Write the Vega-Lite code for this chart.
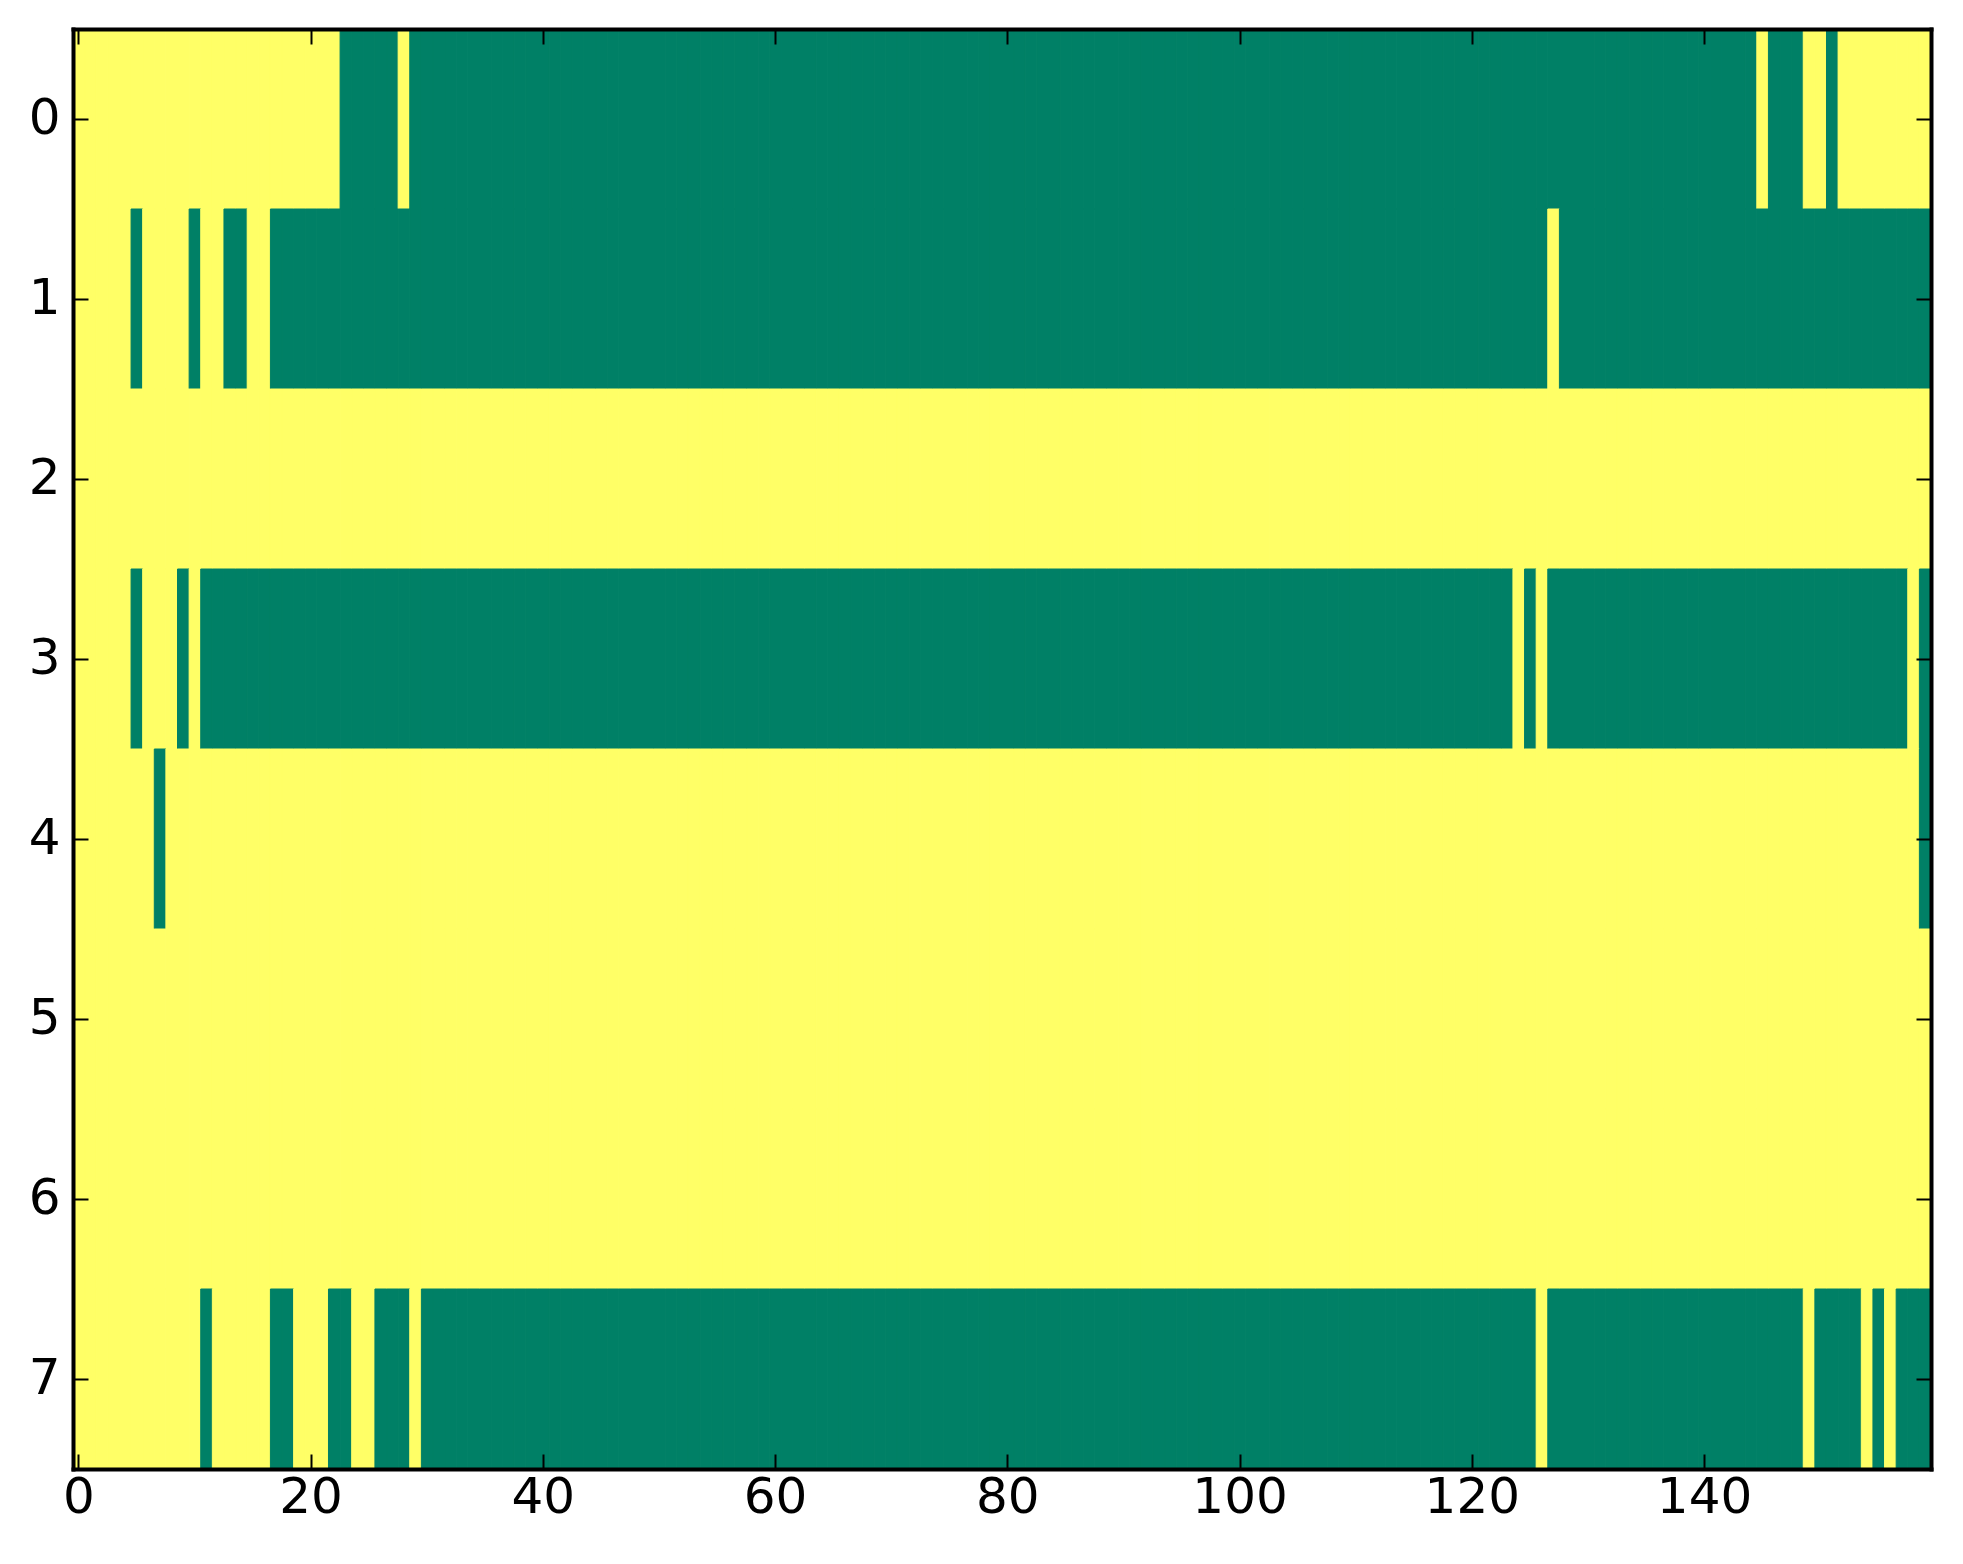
{
  "$schema": "https://vega.github.io/schema/vega-lite/v6.json",
  "width": 1858,
  "height": 1440,
  "autosize": {"type": "none"},
  "padding": {"left": 73, "top": 29, "right": 32, "bottom": 95},
  "background": "white",
  "config": {
    "view": {"stroke": null},
    "axis": {
      "labelFont": "DejaVu Sans",
      "labelFontSize": 50,
      "labelColor": "black",
      "tickColor": "black",
      "tickWidth": 2,
      "tickSize": -15,
      "domainColor": "black",
      "domainWidth": 4,
      "domainCap": "square",
      "grid": false,
      "title": null
    }
  },
  "data": {"values": [
{"r":0,"c":0,"v":1},{"r":0,"c":1,"v":1},{"r":0,"c":2,"v":1},{"r":0,"c":3,"v":1},{"r":0,"c":4,"v":1},{"r":0,"c":5,"v":1},{"r":0,"c":6,"v":1},{"r":0,"c":7,"v":1},{"r":0,"c":8,"v":1},{"r":0,"c":9,"v":1},
{"r":0,"c":10,"v":1},{"r":0,"c":11,"v":1},{"r":0,"c":12,"v":1},{"r":0,"c":13,"v":1},{"r":0,"c":14,"v":1},{"r":0,"c":15,"v":1},{"r":0,"c":16,"v":1},{"r":0,"c":17,"v":1},{"r":0,"c":18,"v":1},{"r":0,"c":19,"v":1},
{"r":0,"c":20,"v":1},{"r":0,"c":21,"v":1},{"r":0,"c":22,"v":1},{"r":0,"c":23,"v":0},{"r":0,"c":24,"v":0},{"r":0,"c":25,"v":0},{"r":0,"c":26,"v":0},{"r":0,"c":27,"v":0},{"r":0,"c":28,"v":1},{"r":0,"c":29,"v":0},
{"r":0,"c":30,"v":0},{"r":0,"c":31,"v":0},{"r":0,"c":32,"v":0},{"r":0,"c":33,"v":0},{"r":0,"c":34,"v":0},{"r":0,"c":35,"v":0},{"r":0,"c":36,"v":0},{"r":0,"c":37,"v":0},{"r":0,"c":38,"v":0},{"r":0,"c":39,"v":0},
{"r":0,"c":40,"v":0},{"r":0,"c":41,"v":0},{"r":0,"c":42,"v":0},{"r":0,"c":43,"v":0},{"r":0,"c":44,"v":0},{"r":0,"c":45,"v":0},{"r":0,"c":46,"v":0},{"r":0,"c":47,"v":0},{"r":0,"c":48,"v":0},{"r":0,"c":49,"v":0},
{"r":0,"c":50,"v":0},{"r":0,"c":51,"v":0},{"r":0,"c":52,"v":0},{"r":0,"c":53,"v":0},{"r":0,"c":54,"v":0},{"r":0,"c":55,"v":0},{"r":0,"c":56,"v":0},{"r":0,"c":57,"v":0},{"r":0,"c":58,"v":0},{"r":0,"c":59,"v":0},
{"r":0,"c":60,"v":0},{"r":0,"c":61,"v":0},{"r":0,"c":62,"v":0},{"r":0,"c":63,"v":0},{"r":0,"c":64,"v":0},{"r":0,"c":65,"v":0},{"r":0,"c":66,"v":0},{"r":0,"c":67,"v":0},{"r":0,"c":68,"v":0},{"r":0,"c":69,"v":0},
{"r":0,"c":70,"v":0},{"r":0,"c":71,"v":0},{"r":0,"c":72,"v":0},{"r":0,"c":73,"v":0},{"r":0,"c":74,"v":0},{"r":0,"c":75,"v":0},{"r":0,"c":76,"v":0},{"r":0,"c":77,"v":0},{"r":0,"c":78,"v":0},{"r":0,"c":79,"v":0},
{"r":0,"c":80,"v":0},{"r":0,"c":81,"v":0},{"r":0,"c":82,"v":0},{"r":0,"c":83,"v":0},{"r":0,"c":84,"v":0},{"r":0,"c":85,"v":0},{"r":0,"c":86,"v":0},{"r":0,"c":87,"v":0},{"r":0,"c":88,"v":0},{"r":0,"c":89,"v":0},
{"r":0,"c":90,"v":0},{"r":0,"c":91,"v":0},{"r":0,"c":92,"v":0},{"r":0,"c":93,"v":0},{"r":0,"c":94,"v":0},{"r":0,"c":95,"v":0},{"r":0,"c":96,"v":0},{"r":0,"c":97,"v":0},{"r":0,"c":98,"v":0},{"r":0,"c":99,"v":0},
{"r":0,"c":100,"v":0},{"r":0,"c":101,"v":0},{"r":0,"c":102,"v":0},{"r":0,"c":103,"v":0},{"r":0,"c":104,"v":0},{"r":0,"c":105,"v":0},{"r":0,"c":106,"v":0},{"r":0,"c":107,"v":0},{"r":0,"c":108,"v":0},{"r":0,"c":109,"v":0},
{"r":0,"c":110,"v":0},{"r":0,"c":111,"v":0},{"r":0,"c":112,"v":0},{"r":0,"c":113,"v":0},{"r":0,"c":114,"v":0},{"r":0,"c":115,"v":0},{"r":0,"c":116,"v":0},{"r":0,"c":117,"v":0},{"r":0,"c":118,"v":0},{"r":0,"c":119,"v":0},
{"r":0,"c":120,"v":0},{"r":0,"c":121,"v":0},{"r":0,"c":122,"v":0},{"r":0,"c":123,"v":0},{"r":0,"c":124,"v":0},{"r":0,"c":125,"v":0},{"r":0,"c":126,"v":0},{"r":0,"c":127,"v":0},{"r":0,"c":128,"v":0},{"r":0,"c":129,"v":0},
{"r":0,"c":130,"v":0},{"r":0,"c":131,"v":0},{"r":0,"c":132,"v":0},{"r":0,"c":133,"v":0},{"r":0,"c":134,"v":0},{"r":0,"c":135,"v":0},{"r":0,"c":136,"v":0},{"r":0,"c":137,"v":0},{"r":0,"c":138,"v":0},{"r":0,"c":139,"v":0},
{"r":0,"c":140,"v":0},{"r":0,"c":141,"v":0},{"r":0,"c":142,"v":0},{"r":0,"c":143,"v":0},{"r":0,"c":144,"v":0},{"r":0,"c":145,"v":1},{"r":0,"c":146,"v":0},{"r":0,"c":147,"v":0},{"r":0,"c":148,"v":0},{"r":0,"c":149,"v":1},
{"r":0,"c":150,"v":1},{"r":0,"c":151,"v":0},{"r":0,"c":152,"v":1},{"r":0,"c":153,"v":1},{"r":0,"c":154,"v":1},{"r":0,"c":155,"v":1},{"r":0,"c":156,"v":1},{"r":0,"c":157,"v":1},{"r":0,"c":158,"v":1},{"r":0,"c":159,"v":1},
{"r":1,"c":0,"v":1},{"r":1,"c":1,"v":1},{"r":1,"c":2,"v":1},{"r":1,"c":3,"v":1},{"r":1,"c":4,"v":1},{"r":1,"c":5,"v":0},{"r":1,"c":6,"v":1},{"r":1,"c":7,"v":1},{"r":1,"c":8,"v":1},{"r":1,"c":9,"v":1},
{"r":1,"c":10,"v":0},{"r":1,"c":11,"v":1},{"r":1,"c":12,"v":1},{"r":1,"c":13,"v":0},{"r":1,"c":14,"v":0},{"r":1,"c":15,"v":1},{"r":1,"c":16,"v":1},{"r":1,"c":17,"v":0},{"r":1,"c":18,"v":0},{"r":1,"c":19,"v":0},
{"r":1,"c":20,"v":0},{"r":1,"c":21,"v":0},{"r":1,"c":22,"v":0},{"r":1,"c":23,"v":0},{"r":1,"c":24,"v":0},{"r":1,"c":25,"v":0},{"r":1,"c":26,"v":0},{"r":1,"c":27,"v":0},{"r":1,"c":28,"v":0},{"r":1,"c":29,"v":0},
{"r":1,"c":30,"v":0},{"r":1,"c":31,"v":0},{"r":1,"c":32,"v":0},{"r":1,"c":33,"v":0},{"r":1,"c":34,"v":0},{"r":1,"c":35,"v":0},{"r":1,"c":36,"v":0},{"r":1,"c":37,"v":0},{"r":1,"c":38,"v":0},{"r":1,"c":39,"v":0},
{"r":1,"c":40,"v":0},{"r":1,"c":41,"v":0},{"r":1,"c":42,"v":0},{"r":1,"c":43,"v":0},{"r":1,"c":44,"v":0},{"r":1,"c":45,"v":0},{"r":1,"c":46,"v":0},{"r":1,"c":47,"v":0},{"r":1,"c":48,"v":0},{"r":1,"c":49,"v":0},
{"r":1,"c":50,"v":0},{"r":1,"c":51,"v":0},{"r":1,"c":52,"v":0},{"r":1,"c":53,"v":0},{"r":1,"c":54,"v":0},{"r":1,"c":55,"v":0},{"r":1,"c":56,"v":0},{"r":1,"c":57,"v":0},{"r":1,"c":58,"v":0},{"r":1,"c":59,"v":0},
{"r":1,"c":60,"v":0},{"r":1,"c":61,"v":0},{"r":1,"c":62,"v":0},{"r":1,"c":63,"v":0},{"r":1,"c":64,"v":0},{"r":1,"c":65,"v":0},{"r":1,"c":66,"v":0},{"r":1,"c":67,"v":0},{"r":1,"c":68,"v":0},{"r":1,"c":69,"v":0},
{"r":1,"c":70,"v":0},{"r":1,"c":71,"v":0},{"r":1,"c":72,"v":0},{"r":1,"c":73,"v":0},{"r":1,"c":74,"v":0},{"r":1,"c":75,"v":0},{"r":1,"c":76,"v":0},{"r":1,"c":77,"v":0},{"r":1,"c":78,"v":0},{"r":1,"c":79,"v":0},
{"r":1,"c":80,"v":0},{"r":1,"c":81,"v":0},{"r":1,"c":82,"v":0},{"r":1,"c":83,"v":0},{"r":1,"c":84,"v":0},{"r":1,"c":85,"v":0},{"r":1,"c":86,"v":0},{"r":1,"c":87,"v":0},{"r":1,"c":88,"v":0},{"r":1,"c":89,"v":0},
{"r":1,"c":90,"v":0},{"r":1,"c":91,"v":0},{"r":1,"c":92,"v":0},{"r":1,"c":93,"v":0},{"r":1,"c":94,"v":0},{"r":1,"c":95,"v":0},{"r":1,"c":96,"v":0},{"r":1,"c":97,"v":0},{"r":1,"c":98,"v":0},{"r":1,"c":99,"v":0},
{"r":1,"c":100,"v":0},{"r":1,"c":101,"v":0},{"r":1,"c":102,"v":0},{"r":1,"c":103,"v":0},{"r":1,"c":104,"v":0},{"r":1,"c":105,"v":0},{"r":1,"c":106,"v":0},{"r":1,"c":107,"v":0},{"r":1,"c":108,"v":0},{"r":1,"c":109,"v":0},
{"r":1,"c":110,"v":0},{"r":1,"c":111,"v":0},{"r":1,"c":112,"v":0},{"r":1,"c":113,"v":0},{"r":1,"c":114,"v":0},{"r":1,"c":115,"v":0},{"r":1,"c":116,"v":0},{"r":1,"c":117,"v":0},{"r":1,"c":118,"v":0},{"r":1,"c":119,"v":0},
{"r":1,"c":120,"v":0},{"r":1,"c":121,"v":0},{"r":1,"c":122,"v":0},{"r":1,"c":123,"v":0},{"r":1,"c":124,"v":0},{"r":1,"c":125,"v":0},{"r":1,"c":126,"v":0},{"r":1,"c":127,"v":1},{"r":1,"c":128,"v":0},{"r":1,"c":129,"v":0},
{"r":1,"c":130,"v":0},{"r":1,"c":131,"v":0},{"r":1,"c":132,"v":0},{"r":1,"c":133,"v":0},{"r":1,"c":134,"v":0},{"r":1,"c":135,"v":0},{"r":1,"c":136,"v":0},{"r":1,"c":137,"v":0},{"r":1,"c":138,"v":0},{"r":1,"c":139,"v":0},
{"r":1,"c":140,"v":0},{"r":1,"c":141,"v":0},{"r":1,"c":142,"v":0},{"r":1,"c":143,"v":0},{"r":1,"c":144,"v":0},{"r":1,"c":145,"v":0},{"r":1,"c":146,"v":0},{"r":1,"c":147,"v":0},{"r":1,"c":148,"v":0},{"r":1,"c":149,"v":0},
{"r":1,"c":150,"v":0},{"r":1,"c":151,"v":0},{"r":1,"c":152,"v":0},{"r":1,"c":153,"v":0},{"r":1,"c":154,"v":0},{"r":1,"c":155,"v":0},{"r":1,"c":156,"v":0},{"r":1,"c":157,"v":0},{"r":1,"c":158,"v":0},{"r":1,"c":159,"v":0},
{"r":2,"c":0,"v":1},{"r":2,"c":1,"v":1},{"r":2,"c":2,"v":1},{"r":2,"c":3,"v":1},{"r":2,"c":4,"v":1},{"r":2,"c":5,"v":1},{"r":2,"c":6,"v":1},{"r":2,"c":7,"v":1},{"r":2,"c":8,"v":1},{"r":2,"c":9,"v":1},
{"r":2,"c":10,"v":1},{"r":2,"c":11,"v":1},{"r":2,"c":12,"v":1},{"r":2,"c":13,"v":1},{"r":2,"c":14,"v":1},{"r":2,"c":15,"v":1},{"r":2,"c":16,"v":1},{"r":2,"c":17,"v":1},{"r":2,"c":18,"v":1},{"r":2,"c":19,"v":1},
{"r":2,"c":20,"v":1},{"r":2,"c":21,"v":1},{"r":2,"c":22,"v":1},{"r":2,"c":23,"v":1},{"r":2,"c":24,"v":1},{"r":2,"c":25,"v":1},{"r":2,"c":26,"v":1},{"r":2,"c":27,"v":1},{"r":2,"c":28,"v":1},{"r":2,"c":29,"v":1},
{"r":2,"c":30,"v":1},{"r":2,"c":31,"v":1},{"r":2,"c":32,"v":1},{"r":2,"c":33,"v":1},{"r":2,"c":34,"v":1},{"r":2,"c":35,"v":1},{"r":2,"c":36,"v":1},{"r":2,"c":37,"v":1},{"r":2,"c":38,"v":1},{"r":2,"c":39,"v":1},
{"r":2,"c":40,"v":1},{"r":2,"c":41,"v":1},{"r":2,"c":42,"v":1},{"r":2,"c":43,"v":1},{"r":2,"c":44,"v":1},{"r":2,"c":45,"v":1},{"r":2,"c":46,"v":1},{"r":2,"c":47,"v":1},{"r":2,"c":48,"v":1},{"r":2,"c":49,"v":1},
{"r":2,"c":50,"v":1},{"r":2,"c":51,"v":1},{"r":2,"c":52,"v":1},{"r":2,"c":53,"v":1},{"r":2,"c":54,"v":1},{"r":2,"c":55,"v":1},{"r":2,"c":56,"v":1},{"r":2,"c":57,"v":1},{"r":2,"c":58,"v":1},{"r":2,"c":59,"v":1},
{"r":2,"c":60,"v":1},{"r":2,"c":61,"v":1},{"r":2,"c":62,"v":1},{"r":2,"c":63,"v":1},{"r":2,"c":64,"v":1},{"r":2,"c":65,"v":1},{"r":2,"c":66,"v":1},{"r":2,"c":67,"v":1},{"r":2,"c":68,"v":1},{"r":2,"c":69,"v":1},
{"r":2,"c":70,"v":1},{"r":2,"c":71,"v":1},{"r":2,"c":72,"v":1},{"r":2,"c":73,"v":1},{"r":2,"c":74,"v":1},{"r":2,"c":75,"v":1},{"r":2,"c":76,"v":1},{"r":2,"c":77,"v":1},{"r":2,"c":78,"v":1},{"r":2,"c":79,"v":1},
{"r":2,"c":80,"v":1},{"r":2,"c":81,"v":1},{"r":2,"c":82,"v":1},{"r":2,"c":83,"v":1},{"r":2,"c":84,"v":1},{"r":2,"c":85,"v":1},{"r":2,"c":86,"v":1},{"r":2,"c":87,"v":1},{"r":2,"c":88,"v":1},{"r":2,"c":89,"v":1},
{"r":2,"c":90,"v":1},{"r":2,"c":91,"v":1},{"r":2,"c":92,"v":1},{"r":2,"c":93,"v":1},{"r":2,"c":94,"v":1},{"r":2,"c":95,"v":1},{"r":2,"c":96,"v":1},{"r":2,"c":97,"v":1},{"r":2,"c":98,"v":1},{"r":2,"c":99,"v":1},
{"r":2,"c":100,"v":1},{"r":2,"c":101,"v":1},{"r":2,"c":102,"v":1},{"r":2,"c":103,"v":1},{"r":2,"c":104,"v":1},{"r":2,"c":105,"v":1},{"r":2,"c":106,"v":1},{"r":2,"c":107,"v":1},{"r":2,"c":108,"v":1},{"r":2,"c":109,"v":1},
{"r":2,"c":110,"v":1},{"r":2,"c":111,"v":1},{"r":2,"c":112,"v":1},{"r":2,"c":113,"v":1},{"r":2,"c":114,"v":1},{"r":2,"c":115,"v":1},{"r":2,"c":116,"v":1},{"r":2,"c":117,"v":1},{"r":2,"c":118,"v":1},{"r":2,"c":119,"v":1},
{"r":2,"c":120,"v":1},{"r":2,"c":121,"v":1},{"r":2,"c":122,"v":1},{"r":2,"c":123,"v":1},{"r":2,"c":124,"v":1},{"r":2,"c":125,"v":1},{"r":2,"c":126,"v":1},{"r":2,"c":127,"v":1},{"r":2,"c":128,"v":1},{"r":2,"c":129,"v":1},
{"r":2,"c":130,"v":1},{"r":2,"c":131,"v":1},{"r":2,"c":132,"v":1},{"r":2,"c":133,"v":1},{"r":2,"c":134,"v":1},{"r":2,"c":135,"v":1},{"r":2,"c":136,"v":1},{"r":2,"c":137,"v":1},{"r":2,"c":138,"v":1},{"r":2,"c":139,"v":1},
{"r":2,"c":140,"v":1},{"r":2,"c":141,"v":1},{"r":2,"c":142,"v":1},{"r":2,"c":143,"v":1},{"r":2,"c":144,"v":1},{"r":2,"c":145,"v":1},{"r":2,"c":146,"v":1},{"r":2,"c":147,"v":1},{"r":2,"c":148,"v":1},{"r":2,"c":149,"v":1},
{"r":2,"c":150,"v":1},{"r":2,"c":151,"v":1},{"r":2,"c":152,"v":1},{"r":2,"c":153,"v":1},{"r":2,"c":154,"v":1},{"r":2,"c":155,"v":1},{"r":2,"c":156,"v":1},{"r":2,"c":157,"v":1},{"r":2,"c":158,"v":1},{"r":2,"c":159,"v":1},
{"r":3,"c":0,"v":1},{"r":3,"c":1,"v":1},{"r":3,"c":2,"v":1},{"r":3,"c":3,"v":1},{"r":3,"c":4,"v":1},{"r":3,"c":5,"v":0},{"r":3,"c":6,"v":1},{"r":3,"c":7,"v":1},{"r":3,"c":8,"v":1},{"r":3,"c":9,"v":0},
{"r":3,"c":10,"v":1},{"r":3,"c":11,"v":0},{"r":3,"c":12,"v":0},{"r":3,"c":13,"v":0},{"r":3,"c":14,"v":0},{"r":3,"c":15,"v":0},{"r":3,"c":16,"v":0},{"r":3,"c":17,"v":0},{"r":3,"c":18,"v":0},{"r":3,"c":19,"v":0},
{"r":3,"c":20,"v":0},{"r":3,"c":21,"v":0},{"r":3,"c":22,"v":0},{"r":3,"c":23,"v":0},{"r":3,"c":24,"v":0},{"r":3,"c":25,"v":0},{"r":3,"c":26,"v":0},{"r":3,"c":27,"v":0},{"r":3,"c":28,"v":0},{"r":3,"c":29,"v":0},
{"r":3,"c":30,"v":0},{"r":3,"c":31,"v":0},{"r":3,"c":32,"v":0},{"r":3,"c":33,"v":0},{"r":3,"c":34,"v":0},{"r":3,"c":35,"v":0},{"r":3,"c":36,"v":0},{"r":3,"c":37,"v":0},{"r":3,"c":38,"v":0},{"r":3,"c":39,"v":0},
{"r":3,"c":40,"v":0},{"r":3,"c":41,"v":0},{"r":3,"c":42,"v":0},{"r":3,"c":43,"v":0},{"r":3,"c":44,"v":0},{"r":3,"c":45,"v":0},{"r":3,"c":46,"v":0},{"r":3,"c":47,"v":0},{"r":3,"c":48,"v":0},{"r":3,"c":49,"v":0},
{"r":3,"c":50,"v":0},{"r":3,"c":51,"v":0},{"r":3,"c":52,"v":0},{"r":3,"c":53,"v":0},{"r":3,"c":54,"v":0},{"r":3,"c":55,"v":0},{"r":3,"c":56,"v":0},{"r":3,"c":57,"v":0},{"r":3,"c":58,"v":0},{"r":3,"c":59,"v":0},
{"r":3,"c":60,"v":0},{"r":3,"c":61,"v":0},{"r":3,"c":62,"v":0},{"r":3,"c":63,"v":0},{"r":3,"c":64,"v":0},{"r":3,"c":65,"v":0},{"r":3,"c":66,"v":0},{"r":3,"c":67,"v":0},{"r":3,"c":68,"v":0},{"r":3,"c":69,"v":0},
{"r":3,"c":70,"v":0},{"r":3,"c":71,"v":0},{"r":3,"c":72,"v":0},{"r":3,"c":73,"v":0},{"r":3,"c":74,"v":0},{"r":3,"c":75,"v":0},{"r":3,"c":76,"v":0},{"r":3,"c":77,"v":0},{"r":3,"c":78,"v":0},{"r":3,"c":79,"v":0},
{"r":3,"c":80,"v":0},{"r":3,"c":81,"v":0},{"r":3,"c":82,"v":0},{"r":3,"c":83,"v":0},{"r":3,"c":84,"v":0},{"r":3,"c":85,"v":0},{"r":3,"c":86,"v":0},{"r":3,"c":87,"v":0},{"r":3,"c":88,"v":0},{"r":3,"c":89,"v":0},
{"r":3,"c":90,"v":0},{"r":3,"c":91,"v":0},{"r":3,"c":92,"v":0},{"r":3,"c":93,"v":0},{"r":3,"c":94,"v":0},{"r":3,"c":95,"v":0},{"r":3,"c":96,"v":0},{"r":3,"c":97,"v":0},{"r":3,"c":98,"v":0},{"r":3,"c":99,"v":0},
{"r":3,"c":100,"v":0},{"r":3,"c":101,"v":0},{"r":3,"c":102,"v":0},{"r":3,"c":103,"v":0},{"r":3,"c":104,"v":0},{"r":3,"c":105,"v":0},{"r":3,"c":106,"v":0},{"r":3,"c":107,"v":0},{"r":3,"c":108,"v":0},{"r":3,"c":109,"v":0},
{"r":3,"c":110,"v":0},{"r":3,"c":111,"v":0},{"r":3,"c":112,"v":0},{"r":3,"c":113,"v":0},{"r":3,"c":114,"v":0},{"r":3,"c":115,"v":0},{"r":3,"c":116,"v":0},{"r":3,"c":117,"v":0},{"r":3,"c":118,"v":0},{"r":3,"c":119,"v":0},
{"r":3,"c":120,"v":0},{"r":3,"c":121,"v":0},{"r":3,"c":122,"v":0},{"r":3,"c":123,"v":0},{"r":3,"c":124,"v":1},{"r":3,"c":125,"v":0},{"r":3,"c":126,"v":1},{"r":3,"c":127,"v":0},{"r":3,"c":128,"v":0},{"r":3,"c":129,"v":0},
{"r":3,"c":130,"v":0},{"r":3,"c":131,"v":0},{"r":3,"c":132,"v":0},{"r":3,"c":133,"v":0},{"r":3,"c":134,"v":0},{"r":3,"c":135,"v":0},{"r":3,"c":136,"v":0},{"r":3,"c":137,"v":0},{"r":3,"c":138,"v":0},{"r":3,"c":139,"v":0},
{"r":3,"c":140,"v":0},{"r":3,"c":141,"v":0},{"r":3,"c":142,"v":0},{"r":3,"c":143,"v":0},{"r":3,"c":144,"v":0},{"r":3,"c":145,"v":0},{"r":3,"c":146,"v":0},{"r":3,"c":147,"v":0},{"r":3,"c":148,"v":0},{"r":3,"c":149,"v":0},
{"r":3,"c":150,"v":0},{"r":3,"c":151,"v":0},{"r":3,"c":152,"v":0},{"r":3,"c":153,"v":0},{"r":3,"c":154,"v":0},{"r":3,"c":155,"v":0},{"r":3,"c":156,"v":0},{"r":3,"c":157,"v":0},{"r":3,"c":158,"v":1},{"r":3,"c":159,"v":0},
{"r":4,"c":0,"v":1},{"r":4,"c":1,"v":1},{"r":4,"c":2,"v":1},{"r":4,"c":3,"v":1},{"r":4,"c":4,"v":1},{"r":4,"c":5,"v":1},{"r":4,"c":6,"v":1},{"r":4,"c":7,"v":0},{"r":4,"c":8,"v":1},{"r":4,"c":9,"v":1},
{"r":4,"c":10,"v":1},{"r":4,"c":11,"v":1},{"r":4,"c":12,"v":1},{"r":4,"c":13,"v":1},{"r":4,"c":14,"v":1},{"r":4,"c":15,"v":1},{"r":4,"c":16,"v":1},{"r":4,"c":17,"v":1},{"r":4,"c":18,"v":1},{"r":4,"c":19,"v":1},
{"r":4,"c":20,"v":1},{"r":4,"c":21,"v":1},{"r":4,"c":22,"v":1},{"r":4,"c":23,"v":1},{"r":4,"c":24,"v":1},{"r":4,"c":25,"v":1},{"r":4,"c":26,"v":1},{"r":4,"c":27,"v":1},{"r":4,"c":28,"v":1},{"r":4,"c":29,"v":1},
{"r":4,"c":30,"v":1},{"r":4,"c":31,"v":1},{"r":4,"c":32,"v":1},{"r":4,"c":33,"v":1},{"r":4,"c":34,"v":1},{"r":4,"c":35,"v":1},{"r":4,"c":36,"v":1},{"r":4,"c":37,"v":1},{"r":4,"c":38,"v":1},{"r":4,"c":39,"v":1},
{"r":4,"c":40,"v":1},{"r":4,"c":41,"v":1},{"r":4,"c":42,"v":1},{"r":4,"c":43,"v":1},{"r":4,"c":44,"v":1},{"r":4,"c":45,"v":1},{"r":4,"c":46,"v":1},{"r":4,"c":47,"v":1},{"r":4,"c":48,"v":1},{"r":4,"c":49,"v":1},
{"r":4,"c":50,"v":1},{"r":4,"c":51,"v":1},{"r":4,"c":52,"v":1},{"r":4,"c":53,"v":1},{"r":4,"c":54,"v":1},{"r":4,"c":55,"v":1},{"r":4,"c":56,"v":1},{"r":4,"c":57,"v":1},{"r":4,"c":58,"v":1},{"r":4,"c":59,"v":1},
{"r":4,"c":60,"v":1},{"r":4,"c":61,"v":1},{"r":4,"c":62,"v":1},{"r":4,"c":63,"v":1},{"r":4,"c":64,"v":1},{"r":4,"c":65,"v":1},{"r":4,"c":66,"v":1},{"r":4,"c":67,"v":1},{"r":4,"c":68,"v":1},{"r":4,"c":69,"v":1},
{"r":4,"c":70,"v":1},{"r":4,"c":71,"v":1},{"r":4,"c":72,"v":1},{"r":4,"c":73,"v":1},{"r":4,"c":74,"v":1},{"r":4,"c":75,"v":1},{"r":4,"c":76,"v":1},{"r":4,"c":77,"v":1},{"r":4,"c":78,"v":1},{"r":4,"c":79,"v":1},
{"r":4,"c":80,"v":1},{"r":4,"c":81,"v":1},{"r":4,"c":82,"v":1},{"r":4,"c":83,"v":1},{"r":4,"c":84,"v":1},{"r":4,"c":85,"v":1},{"r":4,"c":86,"v":1},{"r":4,"c":87,"v":1},{"r":4,"c":88,"v":1},{"r":4,"c":89,"v":1},
{"r":4,"c":90,"v":1},{"r":4,"c":91,"v":1},{"r":4,"c":92,"v":1},{"r":4,"c":93,"v":1},{"r":4,"c":94,"v":1},{"r":4,"c":95,"v":1},{"r":4,"c":96,"v":1},{"r":4,"c":97,"v":1},{"r":4,"c":98,"v":1},{"r":4,"c":99,"v":1},
{"r":4,"c":100,"v":1},{"r":4,"c":101,"v":1},{"r":4,"c":102,"v":1},{"r":4,"c":103,"v":1},{"r":4,"c":104,"v":1},{"r":4,"c":105,"v":1},{"r":4,"c":106,"v":1},{"r":4,"c":107,"v":1},{"r":4,"c":108,"v":1},{"r":4,"c":109,"v":1},
{"r":4,"c":110,"v":1},{"r":4,"c":111,"v":1},{"r":4,"c":112,"v":1},{"r":4,"c":113,"v":1},{"r":4,"c":114,"v":1},{"r":4,"c":115,"v":1},{"r":4,"c":116,"v":1},{"r":4,"c":117,"v":1},{"r":4,"c":118,"v":1},{"r":4,"c":119,"v":1},
{"r":4,"c":120,"v":1},{"r":4,"c":121,"v":1},{"r":4,"c":122,"v":1},{"r":4,"c":123,"v":1},{"r":4,"c":124,"v":1},{"r":4,"c":125,"v":1},{"r":4,"c":126,"v":1},{"r":4,"c":127,"v":1},{"r":4,"c":128,"v":1},{"r":4,"c":129,"v":1},
{"r":4,"c":130,"v":1},{"r":4,"c":131,"v":1},{"r":4,"c":132,"v":1},{"r":4,"c":133,"v":1},{"r":4,"c":134,"v":1},{"r":4,"c":135,"v":1},{"r":4,"c":136,"v":1},{"r":4,"c":137,"v":1},{"r":4,"c":138,"v":1},{"r":4,"c":139,"v":1},
{"r":4,"c":140,"v":1},{"r":4,"c":141,"v":1},{"r":4,"c":142,"v":1},{"r":4,"c":143,"v":1},{"r":4,"c":144,"v":1},{"r":4,"c":145,"v":1},{"r":4,"c":146,"v":1},{"r":4,"c":147,"v":1},{"r":4,"c":148,"v":1},{"r":4,"c":149,"v":1},
{"r":4,"c":150,"v":1},{"r":4,"c":151,"v":1},{"r":4,"c":152,"v":1},{"r":4,"c":153,"v":1},{"r":4,"c":154,"v":1},{"r":4,"c":155,"v":1},{"r":4,"c":156,"v":1},{"r":4,"c":157,"v":1},{"r":4,"c":158,"v":1},{"r":4,"c":159,"v":0},
{"r":5,"c":0,"v":1},{"r":5,"c":1,"v":1},{"r":5,"c":2,"v":1},{"r":5,"c":3,"v":1},{"r":5,"c":4,"v":1},{"r":5,"c":5,"v":1},{"r":5,"c":6,"v":1},{"r":5,"c":7,"v":1},{"r":5,"c":8,"v":1},{"r":5,"c":9,"v":1},
{"r":5,"c":10,"v":1},{"r":5,"c":11,"v":1},{"r":5,"c":12,"v":1},{"r":5,"c":13,"v":1},{"r":5,"c":14,"v":1},{"r":5,"c":15,"v":1},{"r":5,"c":16,"v":1},{"r":5,"c":17,"v":1},{"r":5,"c":18,"v":1},{"r":5,"c":19,"v":1},
{"r":5,"c":20,"v":1},{"r":5,"c":21,"v":1},{"r":5,"c":22,"v":1},{"r":5,"c":23,"v":1},{"r":5,"c":24,"v":1},{"r":5,"c":25,"v":1},{"r":5,"c":26,"v":1},{"r":5,"c":27,"v":1},{"r":5,"c":28,"v":1},{"r":5,"c":29,"v":1},
{"r":5,"c":30,"v":1},{"r":5,"c":31,"v":1},{"r":5,"c":32,"v":1},{"r":5,"c":33,"v":1},{"r":5,"c":34,"v":1},{"r":5,"c":35,"v":1},{"r":5,"c":36,"v":1},{"r":5,"c":37,"v":1},{"r":5,"c":38,"v":1},{"r":5,"c":39,"v":1},
{"r":5,"c":40,"v":1},{"r":5,"c":41,"v":1},{"r":5,"c":42,"v":1},{"r":5,"c":43,"v":1},{"r":5,"c":44,"v":1},{"r":5,"c":45,"v":1},{"r":5,"c":46,"v":1},{"r":5,"c":47,"v":1},{"r":5,"c":48,"v":1},{"r":5,"c":49,"v":1},
{"r":5,"c":50,"v":1},{"r":5,"c":51,"v":1},{"r":5,"c":52,"v":1},{"r":5,"c":53,"v":1},{"r":5,"c":54,"v":1},{"r":5,"c":55,"v":1},{"r":5,"c":56,"v":1},{"r":5,"c":57,"v":1},{"r":5,"c":58,"v":1},{"r":5,"c":59,"v":1},
{"r":5,"c":60,"v":1},{"r":5,"c":61,"v":1},{"r":5,"c":62,"v":1},{"r":5,"c":63,"v":1},{"r":5,"c":64,"v":1},{"r":5,"c":65,"v":1},{"r":5,"c":66,"v":1},{"r":5,"c":67,"v":1},{"r":5,"c":68,"v":1},{"r":5,"c":69,"v":1},
{"r":5,"c":70,"v":1},{"r":5,"c":71,"v":1},{"r":5,"c":72,"v":1},{"r":5,"c":73,"v":1},{"r":5,"c":74,"v":1},{"r":5,"c":75,"v":1},{"r":5,"c":76,"v":1},{"r":5,"c":77,"v":1},{"r":5,"c":78,"v":1},{"r":5,"c":79,"v":1},
{"r":5,"c":80,"v":1},{"r":5,"c":81,"v":1},{"r":5,"c":82,"v":1},{"r":5,"c":83,"v":1},{"r":5,"c":84,"v":1},{"r":5,"c":85,"v":1},{"r":5,"c":86,"v":1},{"r":5,"c":87,"v":1},{"r":5,"c":88,"v":1},{"r":5,"c":89,"v":1},
{"r":5,"c":90,"v":1},{"r":5,"c":91,"v":1},{"r":5,"c":92,"v":1},{"r":5,"c":93,"v":1},{"r":5,"c":94,"v":1},{"r":5,"c":95,"v":1},{"r":5,"c":96,"v":1},{"r":5,"c":97,"v":1},{"r":5,"c":98,"v":1},{"r":5,"c":99,"v":1},
{"r":5,"c":100,"v":1},{"r":5,"c":101,"v":1},{"r":5,"c":102,"v":1},{"r":5,"c":103,"v":1},{"r":5,"c":104,"v":1},{"r":5,"c":105,"v":1},{"r":5,"c":106,"v":1},{"r":5,"c":107,"v":1},{"r":5,"c":108,"v":1},{"r":5,"c":109,"v":1},
{"r":5,"c":110,"v":1},{"r":5,"c":111,"v":1},{"r":5,"c":112,"v":1},{"r":5,"c":113,"v":1},{"r":5,"c":114,"v":1},{"r":5,"c":115,"v":1},{"r":5,"c":116,"v":1},{"r":5,"c":117,"v":1},{"r":5,"c":118,"v":1},{"r":5,"c":119,"v":1},
{"r":5,"c":120,"v":1},{"r":5,"c":121,"v":1},{"r":5,"c":122,"v":1},{"r":5,"c":123,"v":1},{"r":5,"c":124,"v":1},{"r":5,"c":125,"v":1},{"r":5,"c":126,"v":1},{"r":5,"c":127,"v":1},{"r":5,"c":128,"v":1},{"r":5,"c":129,"v":1},
{"r":5,"c":130,"v":1},{"r":5,"c":131,"v":1},{"r":5,"c":132,"v":1},{"r":5,"c":133,"v":1},{"r":5,"c":134,"v":1},{"r":5,"c":135,"v":1},{"r":5,"c":136,"v":1},{"r":5,"c":137,"v":1},{"r":5,"c":138,"v":1},{"r":5,"c":139,"v":1},
{"r":5,"c":140,"v":1},{"r":5,"c":141,"v":1},{"r":5,"c":142,"v":1},{"r":5,"c":143,"v":1},{"r":5,"c":144,"v":1},{"r":5,"c":145,"v":1},{"r":5,"c":146,"v":1},{"r":5,"c":147,"v":1},{"r":5,"c":148,"v":1},{"r":5,"c":149,"v":1},
{"r":5,"c":150,"v":1},{"r":5,"c":151,"v":1},{"r":5,"c":152,"v":1},{"r":5,"c":153,"v":1},{"r":5,"c":154,"v":1},{"r":5,"c":155,"v":1},{"r":5,"c":156,"v":1},{"r":5,"c":157,"v":1},{"r":5,"c":158,"v":1},{"r":5,"c":159,"v":1},
{"r":6,"c":0,"v":1},{"r":6,"c":1,"v":1},{"r":6,"c":2,"v":1},{"r":6,"c":3,"v":1},{"r":6,"c":4,"v":1},{"r":6,"c":5,"v":1},{"r":6,"c":6,"v":1},{"r":6,"c":7,"v":1},{"r":6,"c":8,"v":1},{"r":6,"c":9,"v":1},
{"r":6,"c":10,"v":1},{"r":6,"c":11,"v":1},{"r":6,"c":12,"v":1},{"r":6,"c":13,"v":1},{"r":6,"c":14,"v":1},{"r":6,"c":15,"v":1},{"r":6,"c":16,"v":1},{"r":6,"c":17,"v":1},{"r":6,"c":18,"v":1},{"r":6,"c":19,"v":1},
{"r":6,"c":20,"v":1},{"r":6,"c":21,"v":1},{"r":6,"c":22,"v":1},{"r":6,"c":23,"v":1},{"r":6,"c":24,"v":1},{"r":6,"c":25,"v":1},{"r":6,"c":26,"v":1},{"r":6,"c":27,"v":1},{"r":6,"c":28,"v":1},{"r":6,"c":29,"v":1},
{"r":6,"c":30,"v":1},{"r":6,"c":31,"v":1},{"r":6,"c":32,"v":1},{"r":6,"c":33,"v":1},{"r":6,"c":34,"v":1},{"r":6,"c":35,"v":1},{"r":6,"c":36,"v":1},{"r":6,"c":37,"v":1},{"r":6,"c":38,"v":1},{"r":6,"c":39,"v":1},
{"r":6,"c":40,"v":1},{"r":6,"c":41,"v":1},{"r":6,"c":42,"v":1},{"r":6,"c":43,"v":1},{"r":6,"c":44,"v":1},{"r":6,"c":45,"v":1},{"r":6,"c":46,"v":1},{"r":6,"c":47,"v":1},{"r":6,"c":48,"v":1},{"r":6,"c":49,"v":1},
{"r":6,"c":50,"v":1},{"r":6,"c":51,"v":1},{"r":6,"c":52,"v":1},{"r":6,"c":53,"v":1},{"r":6,"c":54,"v":1},{"r":6,"c":55,"v":1},{"r":6,"c":56,"v":1},{"r":6,"c":57,"v":1},{"r":6,"c":58,"v":1},{"r":6,"c":59,"v":1},
{"r":6,"c":60,"v":1},{"r":6,"c":61,"v":1},{"r":6,"c":62,"v":1},{"r":6,"c":63,"v":1},{"r":6,"c":64,"v":1},{"r":6,"c":65,"v":1},{"r":6,"c":66,"v":1},{"r":6,"c":67,"v":1},{"r":6,"c":68,"v":1},{"r":6,"c":69,"v":1},
{"r":6,"c":70,"v":1},{"r":6,"c":71,"v":1},{"r":6,"c":72,"v":1},{"r":6,"c":73,"v":1},{"r":6,"c":74,"v":1},{"r":6,"c":75,"v":1},{"r":6,"c":76,"v":1},{"r":6,"c":77,"v":1},{"r":6,"c":78,"v":1},{"r":6,"c":79,"v":1},
{"r":6,"c":80,"v":1},{"r":6,"c":81,"v":1},{"r":6,"c":82,"v":1},{"r":6,"c":83,"v":1},{"r":6,"c":84,"v":1},{"r":6,"c":85,"v":1},{"r":6,"c":86,"v":1},{"r":6,"c":87,"v":1},{"r":6,"c":88,"v":1},{"r":6,"c":89,"v":1},
{"r":6,"c":90,"v":1},{"r":6,"c":91,"v":1},{"r":6,"c":92,"v":1},{"r":6,"c":93,"v":1},{"r":6,"c":94,"v":1},{"r":6,"c":95,"v":1},{"r":6,"c":96,"v":1},{"r":6,"c":97,"v":1},{"r":6,"c":98,"v":1},{"r":6,"c":99,"v":1},
{"r":6,"c":100,"v":1},{"r":6,"c":101,"v":1},{"r":6,"c":102,"v":1},{"r":6,"c":103,"v":1},{"r":6,"c":104,"v":1},{"r":6,"c":105,"v":1},{"r":6,"c":106,"v":1},{"r":6,"c":107,"v":1},{"r":6,"c":108,"v":1},{"r":6,"c":109,"v":1},
{"r":6,"c":110,"v":1},{"r":6,"c":111,"v":1},{"r":6,"c":112,"v":1},{"r":6,"c":113,"v":1},{"r":6,"c":114,"v":1},{"r":6,"c":115,"v":1},{"r":6,"c":116,"v":1},{"r":6,"c":117,"v":1},{"r":6,"c":118,"v":1},{"r":6,"c":119,"v":1},
{"r":6,"c":120,"v":1},{"r":6,"c":121,"v":1},{"r":6,"c":122,"v":1},{"r":6,"c":123,"v":1},{"r":6,"c":124,"v":1},{"r":6,"c":125,"v":1},{"r":6,"c":126,"v":1},{"r":6,"c":127,"v":1},{"r":6,"c":128,"v":1},{"r":6,"c":129,"v":1},
{"r":6,"c":130,"v":1},{"r":6,"c":131,"v":1},{"r":6,"c":132,"v":1},{"r":6,"c":133,"v":1},{"r":6,"c":134,"v":1},{"r":6,"c":135,"v":1},{"r":6,"c":136,"v":1},{"r":6,"c":137,"v":1},{"r":6,"c":138,"v":1},{"r":6,"c":139,"v":1},
{"r":6,"c":140,"v":1},{"r":6,"c":141,"v":1},{"r":6,"c":142,"v":1},{"r":6,"c":143,"v":1},{"r":6,"c":144,"v":1},{"r":6,"c":145,"v":1},{"r":6,"c":146,"v":1},{"r":6,"c":147,"v":1},{"r":6,"c":148,"v":1},{"r":6,"c":149,"v":1},
{"r":6,"c":150,"v":1},{"r":6,"c":151,"v":1},{"r":6,"c":152,"v":1},{"r":6,"c":153,"v":1},{"r":6,"c":154,"v":1},{"r":6,"c":155,"v":1},{"r":6,"c":156,"v":1},{"r":6,"c":157,"v":1},{"r":6,"c":158,"v":1},{"r":6,"c":159,"v":1},
{"r":7,"c":0,"v":1},{"r":7,"c":1,"v":1},{"r":7,"c":2,"v":1},{"r":7,"c":3,"v":1},{"r":7,"c":4,"v":1},{"r":7,"c":5,"v":1},{"r":7,"c":6,"v":1},{"r":7,"c":7,"v":1},{"r":7,"c":8,"v":1},{"r":7,"c":9,"v":1},
{"r":7,"c":10,"v":1},{"r":7,"c":11,"v":0},{"r":7,"c":12,"v":1},{"r":7,"c":13,"v":1},{"r":7,"c":14,"v":1},{"r":7,"c":15,"v":1},{"r":7,"c":16,"v":1},{"r":7,"c":17,"v":0},{"r":7,"c":18,"v":0},{"r":7,"c":19,"v":1},
{"r":7,"c":20,"v":1},{"r":7,"c":21,"v":1},{"r":7,"c":22,"v":0},{"r":7,"c":23,"v":0},{"r":7,"c":24,"v":1},{"r":7,"c":25,"v":1},{"r":7,"c":26,"v":0},{"r":7,"c":27,"v":0},{"r":7,"c":28,"v":0},{"r":7,"c":29,"v":1},
{"r":7,"c":30,"v":0},{"r":7,"c":31,"v":0},{"r":7,"c":32,"v":0},{"r":7,"c":33,"v":0},{"r":7,"c":34,"v":0},{"r":7,"c":35,"v":0},{"r":7,"c":36,"v":0},{"r":7,"c":37,"v":0},{"r":7,"c":38,"v":0},{"r":7,"c":39,"v":0},
{"r":7,"c":40,"v":0},{"r":7,"c":41,"v":0},{"r":7,"c":42,"v":0},{"r":7,"c":43,"v":0},{"r":7,"c":44,"v":0},{"r":7,"c":45,"v":0},{"r":7,"c":46,"v":0},{"r":7,"c":47,"v":0},{"r":7,"c":48,"v":0},{"r":7,"c":49,"v":0},
{"r":7,"c":50,"v":0},{"r":7,"c":51,"v":0},{"r":7,"c":52,"v":0},{"r":7,"c":53,"v":0},{"r":7,"c":54,"v":0},{"r":7,"c":55,"v":0},{"r":7,"c":56,"v":0},{"r":7,"c":57,"v":0},{"r":7,"c":58,"v":0},{"r":7,"c":59,"v":0},
{"r":7,"c":60,"v":0},{"r":7,"c":61,"v":0},{"r":7,"c":62,"v":0},{"r":7,"c":63,"v":0},{"r":7,"c":64,"v":0},{"r":7,"c":65,"v":0},{"r":7,"c":66,"v":0},{"r":7,"c":67,"v":0},{"r":7,"c":68,"v":0},{"r":7,"c":69,"v":0},
{"r":7,"c":70,"v":0},{"r":7,"c":71,"v":0},{"r":7,"c":72,"v":0},{"r":7,"c":73,"v":0},{"r":7,"c":74,"v":0},{"r":7,"c":75,"v":0},{"r":7,"c":76,"v":0},{"r":7,"c":77,"v":0},{"r":7,"c":78,"v":0},{"r":7,"c":79,"v":0},
{"r":7,"c":80,"v":0},{"r":7,"c":81,"v":0},{"r":7,"c":82,"v":0},{"r":7,"c":83,"v":0},{"r":7,"c":84,"v":0},{"r":7,"c":85,"v":0},{"r":7,"c":86,"v":0},{"r":7,"c":87,"v":0},{"r":7,"c":88,"v":0},{"r":7,"c":89,"v":0},
{"r":7,"c":90,"v":0},{"r":7,"c":91,"v":0},{"r":7,"c":92,"v":0},{"r":7,"c":93,"v":0},{"r":7,"c":94,"v":0},{"r":7,"c":95,"v":0},{"r":7,"c":96,"v":0},{"r":7,"c":97,"v":0},{"r":7,"c":98,"v":0},{"r":7,"c":99,"v":0},
{"r":7,"c":100,"v":0},{"r":7,"c":101,"v":0},{"r":7,"c":102,"v":0},{"r":7,"c":103,"v":0},{"r":7,"c":104,"v":0},{"r":7,"c":105,"v":0},{"r":7,"c":106,"v":0},{"r":7,"c":107,"v":0},{"r":7,"c":108,"v":0},{"r":7,"c":109,"v":0},
{"r":7,"c":110,"v":0},{"r":7,"c":111,"v":0},{"r":7,"c":112,"v":0},{"r":7,"c":113,"v":0},{"r":7,"c":114,"v":0},{"r":7,"c":115,"v":0},{"r":7,"c":116,"v":0},{"r":7,"c":117,"v":0},{"r":7,"c":118,"v":0},{"r":7,"c":119,"v":0},
{"r":7,"c":120,"v":0},{"r":7,"c":121,"v":0},{"r":7,"c":122,"v":0},{"r":7,"c":123,"v":0},{"r":7,"c":124,"v":0},{"r":7,"c":125,"v":0},{"r":7,"c":126,"v":1},{"r":7,"c":127,"v":0},{"r":7,"c":128,"v":0},{"r":7,"c":129,"v":0},
{"r":7,"c":130,"v":0},{"r":7,"c":131,"v":0},{"r":7,"c":132,"v":0},{"r":7,"c":133,"v":0},{"r":7,"c":134,"v":0},{"r":7,"c":135,"v":0},{"r":7,"c":136,"v":0},{"r":7,"c":137,"v":0},{"r":7,"c":138,"v":0},{"r":7,"c":139,"v":0},
{"r":7,"c":140,"v":0},{"r":7,"c":141,"v":0},{"r":7,"c":142,"v":0},{"r":7,"c":143,"v":0},{"r":7,"c":144,"v":0},{"r":7,"c":145,"v":0},{"r":7,"c":146,"v":0},{"r":7,"c":147,"v":0},{"r":7,"c":148,"v":0},{"r":7,"c":149,"v":1},
{"r":7,"c":150,"v":0},{"r":7,"c":151,"v":0},{"r":7,"c":152,"v":0},{"r":7,"c":153,"v":0},{"r":7,"c":154,"v":1},{"r":7,"c":155,"v":0},{"r":7,"c":156,"v":1},{"r":7,"c":157,"v":0},{"r":7,"c":158,"v":0},{"r":7,"c":159,"v":0}
  ]},
  "layer": [
    {
      "mark": {"type": "rect", "strokeWidth": 1},
      "encoding": {
        "x": {
          "field": "c",
          "type": "ordinal",
          "scale": {"paddingInner": 0, "paddingOuter": 0},
          "axis": {"orient": "bottom", "values": [0, 20, 40, 60, 80, 100, 120, 140], "labelAngle": 0, "labelPadding": 18, "zindex": 1}
        },
        "y": {
          "field": "r",
          "type": "ordinal",
          "scale": {"paddingInner": 0, "paddingOuter": 0},
          "axis": {"orient": "left", "labelPadding": 28, "zindex": 1}
        },
        "color": {
          "field": "v",
          "type": "nominal",
          "scale": {"domain": [0, 1], "range": ["#008066", "#ffff66"]},
          "legend": null
        },
        "stroke": {
          "field": "v",
          "type": "nominal",
          "scale": {"domain": [0, 1], "range": ["#008066", "#ffff66"]},
          "legend": null
        }
      }
    },
    {
      "mark": {"type": "rect", "opacity": 0},
      "encoding": {
        "x": {
          "field": "c",
          "type": "ordinal",
          "axis": {"orient": "top", "values": [0, 20, 40, 60, 80, 100, 120, 140], "labels": false, "zindex": 1}
        },
        "y": {
          "field": "r",
          "type": "ordinal",
          "axis": {"orient": "right", "labels": false, "zindex": 1}
        }
      }
    }
  ],
  "resolve": {"axis": {"x": "independent", "y": "independent"}}
}
